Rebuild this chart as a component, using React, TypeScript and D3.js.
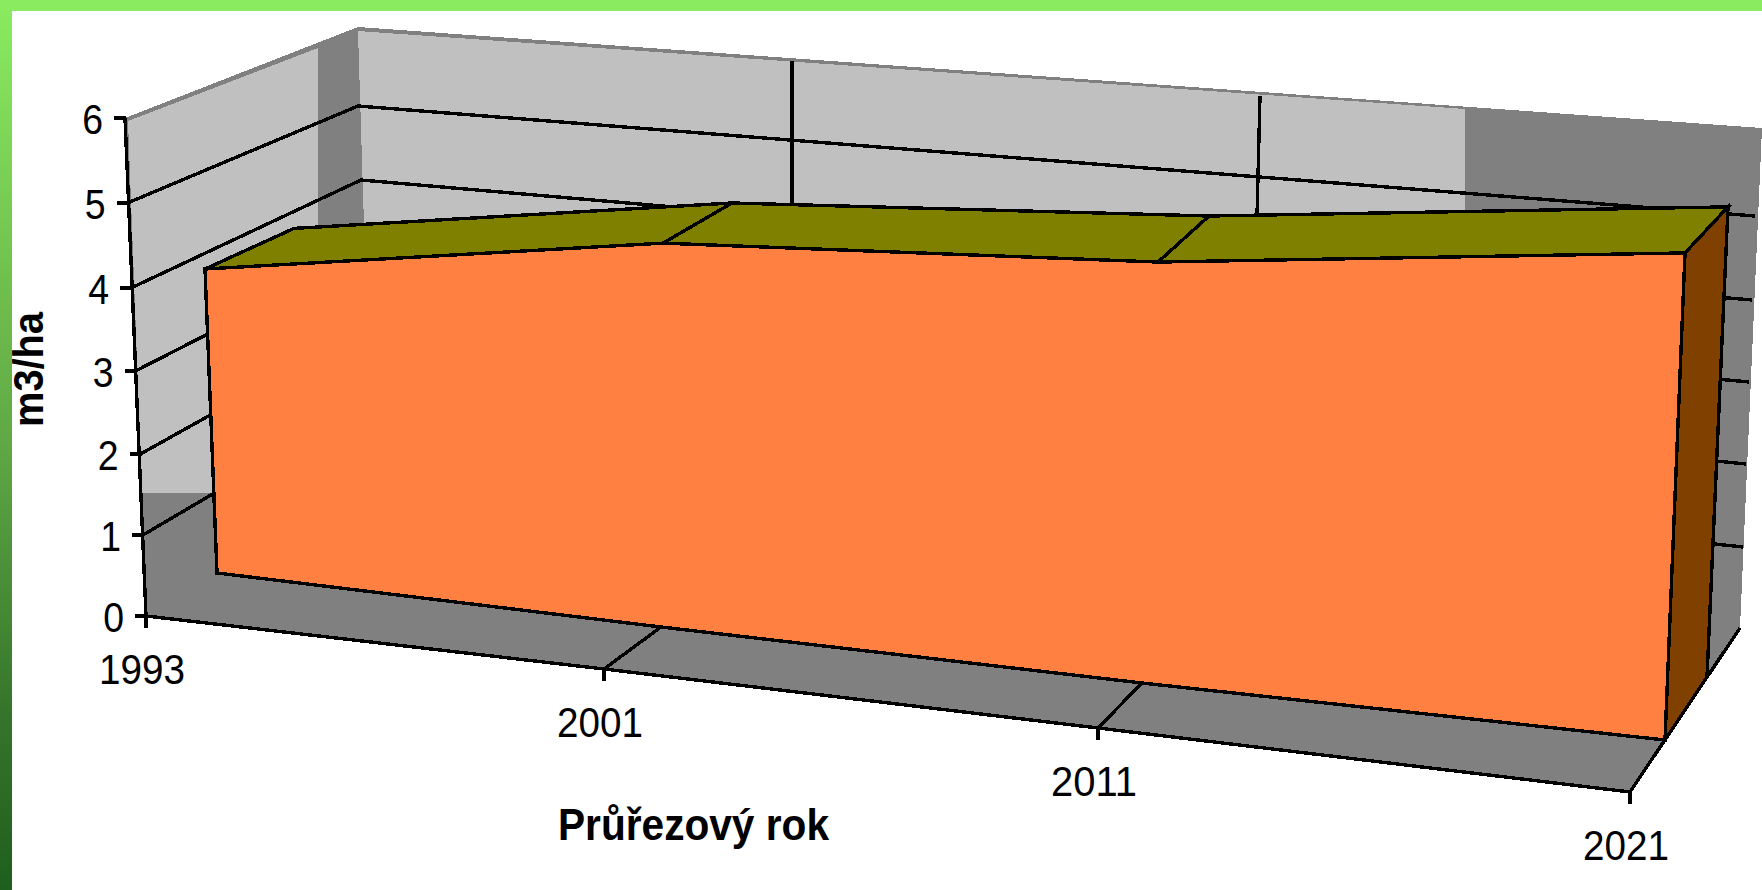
import React from "react";
import * as d3 from "d3";

// ---- data ----
const years = ["1993", "2001", "2011", "2021"];
const harvest = [3.8, 4.5, 4.8, 5.3];
const yTicks = [0, 1, 2, 3, 4, 5, 6];
const yTitle = "m3/ha";
const xTitle = "Průřezový rok";

// ---- perspective rails: where the chart's planes land on the page ----
const W = 1762;
const H = 890;
const idx = [0, 1, 2, 3];
const lin = (d: number[], r: number[]) => d3.scaleLinear().domain(d).range(r);

// front-left vertical axis
const axisY = lin(yTicks, [616, 535, 454, 371, 288, 203, 118]);
const axisX = lin(yTicks, [146, 143, 140.5, 135.5, 131, 127.5, 125]);
// back-left and back-right wall corners
const backLeftY = lin(yTicks, [482, 402, 328, 254, 180, 106, 30]);
const backLeftX = lin(yTicks, [372, 369, 366, 364, 361, 358, 356]);
const backRightY = lin(yTicks, [628, 547, 464, 382, 300, 216, 128]);
const backRightX = lin(yTicks, [1740, 1743, 1746, 1749, 1752, 1755, 1762]);
// category rails
const floorX = lin(idx, [146, 604, 1098, 1630]);
const floorY = lin(idx, [616, 669, 728, 792]);
const wallX = lin(idx, [372, 792, 1257, 1740]);
const wallTopY = lin(idx, [30, 59, 94, 128]);
// block, front plane
const frontX = lin(idx, [217, 661, 1142, 1665]);
const frontY = lin(idx, [573, 627, 683, 740]);
const frontUnit = lin(idx, [80, 85.3, 87.7, 91.9]);
const frontLean = lin(idx, [-12, 2, 16, 20]);
// block, back plane
const backX = lin(idx, [305, 730, 1193, 1707]);
const backY = lin(idx, [521, 572, 624, 677]);
const backUnit = lin(idx, [77, 82, 85, 88.7]);
const backLean = lin(idx, [-11, 2, 16, 21]);

type P = [number, number];
const line = d3.line<P>();
const frontBase = (i: number): P => [frontX(i), frontY(i)];
const frontTop = (i: number): P => [frontX(i) + frontLean(i), frontY(i) - harvest[i] * frontUnit(i)];
const backBase = (i: number): P => [backX(i), backY(i)];
const backTop = (i: number): P => [backX(i) + backLean(i), backY(i) - harvest[i] * backUnit(i)];
const closed = (pts: P[]) => (line(pts) as string) + "Z";

const GRAY = "#808080";
const LIGHT = "#C0C0C0";
const ORANGE = "#FF8040";
const OLIVE = "#808000";
const BROWN = "#804000";
const FONT = "'Liberation Sans', Arial, sans-serif";
const LW = 3.4;

const last = idx.length - 1;
const top = yTicks[yTicks.length - 1];

export default function App() {
  const axisTop: P = [axisX(top), axisY(top)];
  const axisZero: P = [axisX(0), axisY(0)];
  const floorEnd: P = [floorX(last), floorY(last)];
  const wallEnd: P = [backRightX(0), backRightY(0)];

  // silhouette of walls and floor
  const shell: P[] = [
    axisTop,
    [backLeftX(top) + 2, backLeftY(top) - 3],
    [backRightX(top), backRightY(top)],
    wallEnd,
    floorEnd,
    axisZero,
  ];
  // the lit parts of the walls
  const litLeft: P[] = [
    [axisTop[0] + 3, axisTop[1] + 3],
    [318, 48],
    [318, 493],
    [142, 493],
  ];
  const litBack: P[] = [
    [358, 31],
    [1465, 109],
    [1465, 225],
    [364, 225],
  ];

  const frontFace: P[] = [...idx.map(frontTop), ...idx.slice().reverse().map(frontBase)];
  const topFace: P[] = [...idx.map(frontTop), ...idx.slice().reverse().map(backTop)];
  const sideFace: P[] = [frontTop(last), backTop(last), backBase(last), frontBase(last)];

  const stroke = { fill: "none", stroke: "#000", strokeWidth: LW };
  const textStyle = { fontFamily: FONT, fill: "#000" };

  return (
    <svg
      width={W}
      height={H}
      viewBox={`0 0 ${W} ${H}`}
      style={{ position: "absolute", left: 0, top: 0, display: "block", background: "#fff" }}
    >
      <defs>
        <linearGradient id="frame" x1="0" y1="0" x2="0" y2="1">
          <stop offset="0" stopColor="#8AEB60" />
          <stop offset="0.35" stopColor="#6EBB4C" />
          <stop offset="0.5" stopColor="#5FA845" />
          <stop offset="0.8" stopColor="#35752B" />
          <stop offset="1" stopColor="#1F5F1D" />
        </linearGradient>
      </defs>

      {/* walls and floor */}
      <g shapeRendering="crispEdges">
        <path d={closed(shell)} fill={GRAY} />
        <path d={closed(litLeft)} fill={LIGHT} />
        <path d={closed(litBack)} fill={LIGHT} />

        {/* value gridlines: left wall, then back wall */}
        {yTicks
          .filter((t) => t > 0 && t < top)
          .map((t) => (
            <path
              key={t}
              {...stroke}
              d={
                line([
                  [axisX(t), axisY(t)],
                  [backLeftX(t), backLeftY(t)],
                  [backRightX(t), backRightY(t)],
                ]) as string
              }
            />
          ))}

        {/* category gridlines on the back wall */}
        {[1, 2].map((i) => (
          <line key={i} {...stroke} x1={wallX(i) + (i === 2 ? 3 : 0)} x2={wallX(i)} y1={wallTopY(i) + 2} y2={backTop(i)[1]} />
        ))}

        {/* floor edges and category gridlines */}
        <path {...stroke} d={line(idx.map((i) => [floorX(i), floorY(i)] as P)) as string} />
        <path {...stroke} d={line([floorEnd, wallEnd]) as string} />
        {[1, 2].map((i) => (
          <line key={i} {...stroke} x1={floorX(i)} y1={floorY(i)} x2={frontX(i)} y2={frontY(i)} />
        ))}

        {/* x ticks */}
        {idx.map((i) => (
          <line key={i} {...stroke} x1={floorX(i)} x2={floorX(i)} y1={floorY(i)} y2={floorY(i) + 12} />
        ))}

        {/* y axis */}
        <path {...stroke} d={line([axisTop, axisZero]) as string} />
        {yTicks.map((t) => (
          <line key={t} {...stroke} x1={axisX(t) - 11} x2={axisX(t) + 1} y1={axisY(t)} y2={axisY(t)} />
        ))}

        {/* the block */}
        <path d={closed(sideFace)} fill={BROWN} {...{ stroke: "#000", strokeWidth: LW, strokeLinejoin: "miter" }} />
        <path d={closed(topFace)} fill={OLIVE} {...{ stroke: "#000", strokeWidth: LW }} />
        {[1, 2].map((i) => (
          <line
            key={i}
            {...stroke}
            x1={frontTop(i)[0]}
            y1={frontTop(i)[1]}
            x2={backTop(i)[0]}
            y2={backTop(i)[1]}
          />
        ))}
        <path d={closed(frontFace)} fill={ORANGE} {...{ stroke: "#000", strokeWidth: LW }} />
      </g>

      {/* y tick labels */}
      {yTicks.map((t) => (
        <text
          key={t}
          {...textStyle}
          fontSize={43}
          textAnchor="end"
          transform={`translate(${axisX(t) - 22},${axisY(t) + 15.5}) scale(0.87,1)`}
        >
          {t}
        </text>
      ))}

      {/* x tick labels */}
      {years.map((y, i) => (
        <text
          key={y}
          {...textStyle}
          fontSize={43}
          textAnchor="middle"
          textLength={86}
          lengthAdjust="spacingAndGlyphs"
          x={floorX(i) - 4}
          y={floorY(i) + 68}
        >
          {y}
        </text>
      ))}

      {/* axis titles */}
      <text
        {...textStyle}
        fontSize={44}
        fontWeight="bold"
        x={558}
        y={840}
        textLength={271}
        lengthAdjust="spacingAndGlyphs"
      >
        {xTitle}
      </text>
      <text
        {...textStyle}
        fontSize={43}
        fontWeight="bold"
        textAnchor="middle"
        textLength={115}
        lengthAdjust="spacingAndGlyphs"
        transform="translate(43,369.5) rotate(-90)"
      >
        {yTitle}
      </text>

      {/* green frame */}
      <rect x={0} y={0} width={12} height={H} fill="url(#frame)" />
      <rect x={0} y={0} width={W} height={11} fill="#8AEB60" />
    </svg>
  );
}
